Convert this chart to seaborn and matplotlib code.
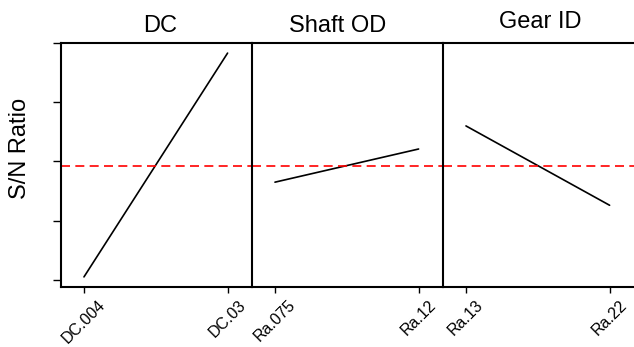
import matplotlib
matplotlib.use("Agg")
import matplotlib.pyplot as plt
import seaborn as sns
import pandas as pd

sns.set_style("white")
plt.rcParams['font.family'] = ['Liberation Sans', 'DejaVu Sans']
plt.rcParams['text.color'] = 'black'
plt.rcParams['xtick.color'] = 'black'
plt.rcParams['ytick.color'] = 'black'
plt.rcParams['axes.labelcolor'] = 'black'

factors = ["DC", "Shaft OD", "Gear ID"]
levels = [["DC.004", "DC.03"], ["Ra.075", "Ra.12"], ["Ra.13", "Ra.22"]]
sn_values = [[0.05, 3.83], [1.65, 2.21], [2.60, 1.26]]
mean_sn = 1.93
y_ticks = [0, 1, 2, 3, 4]

title_x = [0.52, 0.45, 0.508]
title_pad = [8, 8, 11]

fig, axes = plt.subplots(1, 3, figsize=(6.34, 3.47), dpi=100, sharey=True)
fig.subplots_adjust(left=0.0962, right=1.0, top=0.876, bottom=0.173, wspace=0)

for i, ax in enumerate(axes):
    df = pd.DataFrame({"x": [0, 1], "sn": sn_values[i]})
    sns.lineplot(data=df, x="x", y="sn", ax=ax, color="black", linewidth=1.2)
    ax.axhline(mean_sn, color="red", linestyle=(0, (5.4, 3.2)), linewidth=1.2)
    ax.set_xlim(-0.16, 1.17)
    ax.set_ylim(-0.12, 4.0)
    ax.set_xticks([0, 1])
    ax.set_xticklabels(levels[i], rotation=45, ha="center", va="top", fontsize=11.5,
                       color="black")
    ax.set_xlabel("")
    ax.set_ylabel("")
    ax.set_title(factors[i], fontsize=17, pad=title_pad[i], x=title_x[i], color="black")
    for side in ["left", "top", "bottom"]:
        ax.spines[side].set_visible(True)
        ax.spines[side].set_color("black")
        ax.spines[side].set_linewidth(1.5)
    ax.spines["right"].set_visible(False)
    ax.tick_params(axis="x", bottom=True, length=4.3, width=1.0, colors="black", pad=3)
    if i == 0:
        ax.set_yticks(y_ticks)
        ax.set_yticklabels([])
        ax.tick_params(axis="y", left=True, length=5.8, width=1.0, colors="black")
    else:
        ax.tick_params(axis="y", left=False)

fig.text(20 / 634, 1 - 148.5 / 347, "S/N Ratio", rotation=90, fontsize=17,
         ha="center", va="center", color="black")

fig.savefig("out.png", dpi=100)
